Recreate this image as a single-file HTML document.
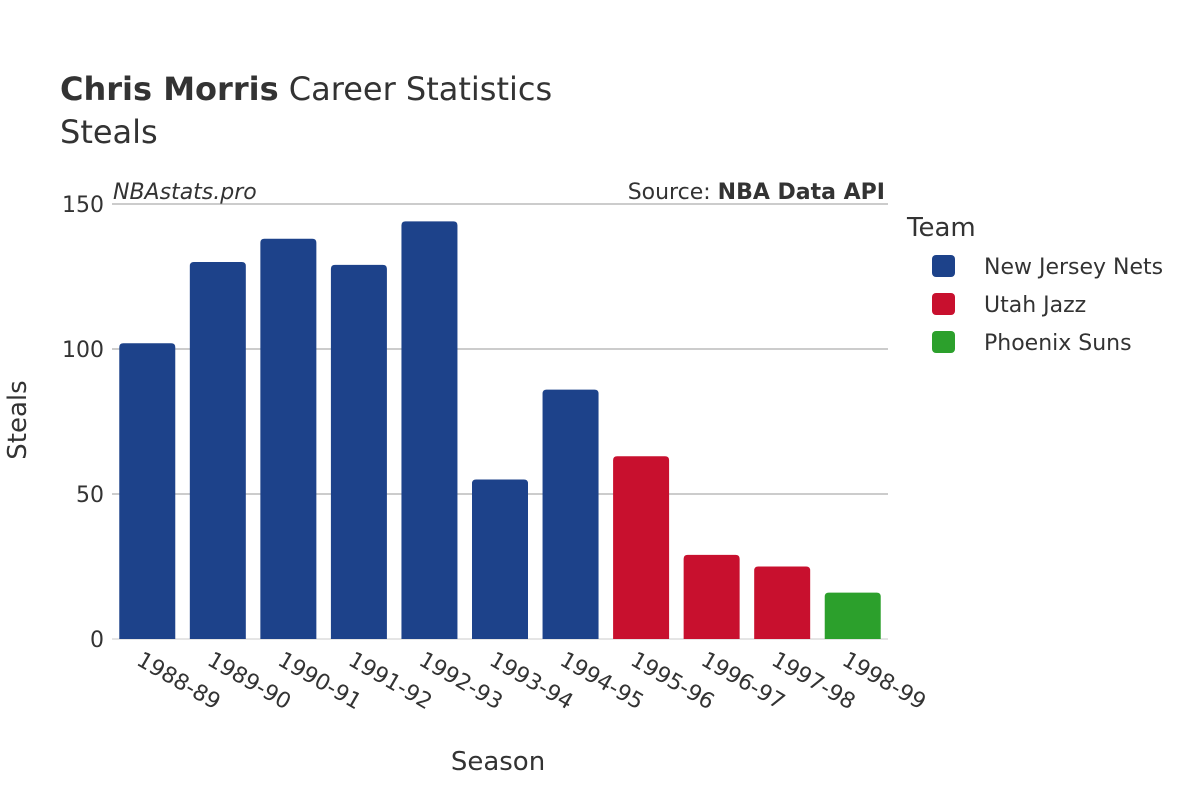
<!DOCTYPE html>
<html><head><meta charset="utf-8"><style>
body{margin:0;background:#fff;}
svg{font-family:"DejaVu Sans","Liberation Sans",sans-serif;}
</style></head><body>
<svg id="chart" width="1200" height="800" xmlns="http://www.w3.org/2000/svg">
<text x="60" y="100" font-size="32" fill="#333"><tspan font-weight="bold">Chris Morris</tspan> Career Statistics</text>
<text x="60" y="143" font-size="32" fill="#333">Steals</text>
<text x="113" y="199" font-size="22" font-style="italic" fill="#333">NBAstats.pro</text>
<text x="885" y="199" font-size="22" text-anchor="end" fill="#333">Source: <tspan font-weight="bold">NBA Data API</tspan></text>
<g id="grid"></g>
<g id="bars"></g>
<g id="xticks"></g>
<text transform="translate(26,420) rotate(-90)" font-size="26" text-anchor="middle" fill="#333">Steals</text>
<text x="498" y="770" font-size="26" text-anchor="middle" fill="#333">Season</text>
<g>
<text x="907" y="236" font-size="26" fill="#333">Team</text>
<rect x="932" y="255" width="23" height="22" rx="4" fill="#1d428a"/>
<text x="984" y="274" font-size="22" fill="#333">New Jersey Nets</text>
<rect x="932" y="293" width="23" height="22" rx="4" fill="#c8102e"/>
<text x="984" y="312" font-size="22" fill="#333">Utah Jazz</text>
<rect x="932" y="331" width="23" height="22" rx="4" fill="#2ca02c"/>
<text x="984" y="350" font-size="22" fill="#333">Phoenix Suns</text>
</g>
</svg>
<script>
const seasons=["1988-89","1989-90","1990-91","1991-92","1992-93","1993-94","1994-95","1995-96","1996-97","1997-98","1998-99"];
const steals=[102,130,138,129,144,55,86,63,29,25,16];
const teams=["NJN","NJN","NJN","NJN","NJN","NJN","NJN","UTA","UTA","UTA","PHX"];
const yTicks=[0,50,100,150];
const colors={NJN:"#1d428a",UTA:"#c8102e",PHX:"#2ca02c"};
const NS="http://www.w3.org/2000/svg";
const x0=112,x1=888,yTop=204,yBot=639,yMax=150;
const band=(x1-x0)/seasons.length;
const yS=v=>yBot-(v/yMax)*(yBot-yTop);
const xS=i=>x0+band*(i+0.5);
const grid=document.getElementById('grid');
yTicks.forEach(t=>{
  const l=document.createElementNS(NS,'line');
  
  
  l.setAttribute('x1',x0);l.setAttribute('x2',x1);l.setAttribute('y1',yS(t));l.setAttribute('y2',yS(t));
  l.setAttribute('stroke',t===0?'#e5e5e5':'#999');l.setAttribute('stroke-width',t===0?2:1);
  grid.appendChild(l);
  const tx=document.createElementNS(NS,'text');
  
  
  tx.setAttribute('x',104);tx.setAttribute('y',yS(t)+8);tx.setAttribute('text-anchor','end');
  tx.setAttribute('font-size','22');tx.setAttribute('fill','#333');tx.textContent=t;
  grid.appendChild(tx);
});
const bars=document.getElementById('bars'),xt=document.getElementById('xticks');
const bw=56;
seasons.forEach((s,i)=>{
  const v=steals[i],top=yS(v),h=yBot-top,x=xS(i)-bw/2,r=Math.min(4,h/2);
  const p=document.createElementNS(NS,'path');
  
  
  p.setAttribute('d',`M${x},${yBot}V${top+r}Q${x},${top} ${x+r},${top}H${x+bw-r}Q${x+bw},${top} ${x+bw},${top+r}V${yBot}Z`);
  p.setAttribute('fill',colors[teams[i]]);
  bars.appendChild(p);
  const t=document.createElementNS(NS,'text');
  
  
  t.setAttribute('transform',`translate(${xS(i)-12},${664}) rotate(30)`);
  t.setAttribute('font-size','22');t.setAttribute('fill','#333');t.textContent=s;
  xt.appendChild(t);
});
</script>
</body></html>
